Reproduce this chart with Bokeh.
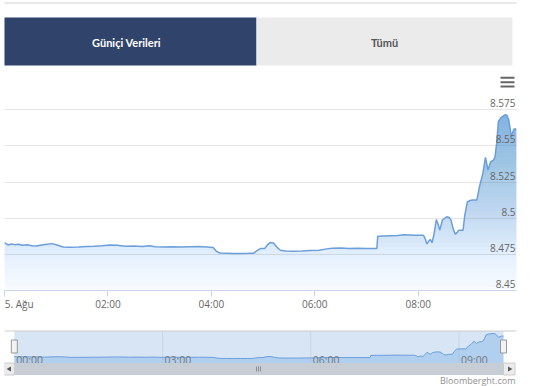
import numpy as np
import pandas as pd
from bokeh.plotting import figure
from bokeh.layouts import column
from bokeh.models import Range1d, FixedTicker, Span
from bokeh.embed import file_html
from bokeh.resources import INLINE
from bokeh.core.properties import value

# ---------------- data ----------------
DAY = "2020-08-05"
times = ["00:00", "00:04", "00:08", "00:12", "00:16", "00:21", "00:26", "00:32", "00:37", "00:43",
         "00:49", "00:55", "01:01", "01:08", "01:16", "01:26", "01:35", "01:44", "01:53", "02:02",
         "02:11", "02:20", "02:30", "02:40", "02:48", "02:55", "03:05", "03:15", "03:25", "03:35",
         "03:45", "03:55", "04:02", "04:06", "04:10", "04:18", "04:26", "04:35", "04:43", "04:49",
         "04:53", "04:57", "05:02", "05:05", "05:08", "05:12", "05:16", "05:20", "05:26", "05:35",
         "05:45", "05:55", "06:05", "06:12", "06:20", "06:30", "06:40", "06:50", "07:00", "07:07",
         "07:12", "07:13", "07:20", "07:28", "07:36", "07:43", "07:50", "07:57", "08:06", "08:08",
         "08:10", "08:12", "08:14", "08:16", "08:18", "08:21", "08:23", "08:25", "08:28", "08:33",
         "08:36", "08:38", "08:41", "08:43", "08:45", "08:47", "08:52", "08:54", "08:57", "09:00",
         "09:03", "09:08", "09:11", "09:15", "09:18", "09:21", "09:24", "09:27", "09:29", "09:31",
         "09:33", "09:36", "09:38", "09:41", "09:43", "09:45", "09:48", "09:51", "09:54"]
rates = [8.4831, 8.4815, 8.4822, 8.4817, 8.4820, 8.4813, 8.4817, 8.4810, 8.4808, 8.4815,
         8.4820, 8.4824, 8.4815, 8.4801, 8.4799, 8.4801, 8.4804, 8.4806, 8.4810, 8.4815,
         8.4812, 8.4806, 8.4808, 8.4804, 8.4810, 8.4803, 8.4801, 8.4803, 8.4800, 8.4802,
         8.4804, 8.4801, 8.4797, 8.4770, 8.4759, 8.4757, 8.4755, 8.4756, 8.4757, 8.4758,
         8.4775, 8.4790, 8.4791, 8.4815, 8.4831, 8.4829, 8.4800, 8.4778, 8.4773, 8.4771,
         8.4773, 8.4776, 8.4778, 8.4786, 8.4792, 8.4793, 8.4791, 8.4792, 8.4790, 8.4791,
         8.4791, 8.4875, 8.4877, 8.4879, 8.4881, 8.4886, 8.4884, 8.4882, 8.4882, 8.4860,
         8.4822, 8.4840, 8.4853, 8.4830, 8.4880, 8.4990, 8.4960, 8.4917, 8.4986, 8.5010,
         8.5005, 8.4986, 8.4917, 8.4890, 8.4900, 8.4917, 8.4917, 8.5020, 8.5113, 8.5122,
         8.5125, 8.5125, 8.5217, 8.5310, 8.5420, 8.5333, 8.5390, 8.5400, 8.5420, 8.5519,
         8.5669, 8.5695, 8.5703, 8.5715, 8.5710, 8.5680, 8.5565, 8.5616, 8.5616]

y_ticks = [8.45, 8.475, 8.5, 8.525, 8.55, 8.575, 8.6]
y_tick_labels = ["8.45", "8.475", "8.5", "8.525", "8.55", "8.575"]
x_ticks = ["00:00", "02:00", "04:00", "06:00", "08:00"]
x_tick_labels = ["5. Ağu", "02:00", "04:00", "06:00", "08:00"]
nav_ticks = ["00:00", "03:00", "06:00", "09:00"]
tab_labels = ["Güniçi Verileri", "Tümü"]
credit = "Bloomberght.com"

# ---------------- styles ----------------
FONT = "Open Sans"
LINE = "#6c9fd9"
FILL = "#6aa5e2"
GRID = "#e6e6e6"
LBL = "#666666"
W = 534
BL, BR = 4, 18          # shared left / right borders -> frames span x 4..516


def ms(ts):
    return (ts - pd.Timestamp("1970-01-01")) / pd.Timedelta(milliseconds=1)


def stamp(s):
    return pd.Timestamp(f"{DAY} {s}")


t = pd.to_datetime([f"{DAY} {s}" for s in times])
v = np.array(rates)
t0, t1 = t[0], t[-1]

# ---------------- tabs (pixel coordinates) ----------------
tabs = figure(width=W, height=70, x_range=Range1d(BL, W - BR), y_range=Range1d(70, 0),
              toolbar_location=None, output_backend="svg", min_border_left=BL,
              min_border_right=BR, min_border_top=0, min_border_bottom=0,
              x_axis_location=None, y_axis_location=None, outline_line_color=None,
              background_fill_color="white", border_fill_color="white")
tabs.xgrid.visible = False
tabs.ygrid.visible = False
tabs.segment(x0=[0], x1=[W], y0=[2.5], y1=[2.5], line_color="#e8e8e8", line_width=2)
tabs.quad(left=[0, 256], right=[256, 512], top=[17, 17], bottom=[65, 65],
          fill_color=["#2f436b", "#ebebeb"], line_color=None)
tabs.text(x=[126], y=[41.5], text=[tab_labels[0]], text_align="center", text_baseline="middle",
          text_color="white", text_font=value("Lato"), text_font_style="bold", text_font_size="11px")
tabs.text(x=[384], y=[41.5], text=[tab_labels[1]], text_align="center", text_baseline="middle",
          text_color="#555555", text_font=value("Lato"), text_font_style="bold", text_font_size="11px")

# ---------------- main chart ----------------
frame_w, frame_h = W - BL - BR, 217
ymin, ymax = y_ticks[0], y_ticks[-1]
val_per_px = (ymax - ymin) / frame_h

p = figure(width=W, height=248, x_axis_type="datetime",
           x_range=Range1d(t0.to_pydatetime(), t1.to_pydatetime()),
           y_range=Range1d(ymin, ymax), toolbar_location=None, output_backend="svg",
           y_axis_location=None, min_border_left=BL, min_border_right=BR,
           min_border_top=3, min_border_bottom=28, outline_line_color=None,
           background_fill_color="white", border_fill_color="white")
p.xgrid.visible = False
p.ygrid.ticker = FixedTicker(ticks=y_ticks)
p.ygrid.grid_line_color = GRID

# vertical gradient under the line, built from layered bands
N = 60
levels = np.linspace(ymin, ymax, N + 1)[:-1]
cum = np.linspace(0.05, 0.92, N)
prev = 0.0
for k, lev in enumerate(levels):
    a = 1 - (1 - cum[k]) / (1 - prev)
    prev = cum[k]
    p.varea(x=t, y1=np.full(len(v), lev), y2=np.maximum(v, lev), fill_color=FILL, fill_alpha=a)
p.line(t, v, line_color=LINE, line_width=1.5)

# y labels sit inside the plot, just above their grid lines
label_y = [yt + 6.5 * val_per_px for yt in y_ticks[:len(y_tick_labels)]]
p.text(x=[t1] * len(y_tick_labels), y=label_y, text=y_tick_labels,
       text_align="right", text_baseline="alphabetic", x_offset=-1,
       text_color=LBL, text_font=value(FONT), text_font_size="10px")

ax = p.xaxis[0]
tick_ms = [ms(stamp(s)) for s in x_ticks]
ax.ticker = FixedTicker(ticks=tick_ms)
ax.major_label_overrides = {tick_ms[0]: "\u00a0\u2009" + x_tick_labels[0],
                            **{m: s for m, s in zip(tick_ms[1:], x_tick_labels[1:])}}
ax.axis_line_color = "#ccd6eb"
ax.major_tick_line_color = "#ccd6eb"
ax.major_tick_out = 6
ax.major_tick_in = 0
ax.minor_tick_line_color = None
ax.major_label_standoff = 0
ax.major_label_text_color = LBL
ax.major_label_text_font = FONT
ax.major_label_text_font_size = "10px"

# hamburger menu icon (pixel placement inside the frame)
ms_per_px = (ms(t1) - ms(t0)) / frame_w
icon_x = pd.Timestamp(ms(t1) - 9 * ms_per_px, unit="ms")
p.scatter(x=[icon_x] * 3, y=[ymax - d * val_per_px for d in (4.3, 8.7, 13.0)], marker="dash",
          size=14, line_width=2, line_color="#666666")

# ---------------- navigator + scrollbar + credit ----------------
NAV_L, NAV_R, NAV_T, NAV_B = 13.8, 503.0, 330.5, 362.5
ppm = (NAV_R - NAV_L) / (ms(t1) - ms(t0))
nav_start = pd.Timestamp(ms(t0) - (NAV_L - BL) / ppm, unit="ms")
nav_end = pd.Timestamp(ms(t1) + (W - BR - NAV_R) / ppm, unit="ms")
vs = (v.max() - v.min()) / (358 - 333)
nav = figure(width=W, height=68, x_axis_type="datetime",
             x_range=Range1d(nav_start.to_pydatetime(), nav_end.to_pydatetime()),
             y_range=Range1d(386, 318), toolbar_location=None, output_backend="svg",
             x_axis_location=None, y_axis_location=None, min_border_left=BL,
             min_border_right=BR, min_border_top=0, min_border_bottom=0,
             outline_line_color=None, background_fill_color="white", border_fill_color="white")
nav.extra_y_ranges = {"rate": Range1d(v.min() - (386 - 358) * vs, v.max() + (333 - 318) * vs)}
nav.extra_x_ranges = {"px": Range1d(BL, W - BR)}
nav.xgrid.visible = False
nav.ygrid.visible = False
nav.quad(left=[t0], right=[t1], top=[NAV_T], bottom=[NAV_B], fill_color="#d8e5f5", line_color=None)
nt = [stamp(s) for s in nav_ticks]
nav.segment(x0=nt[1:], x1=nt[1:], y0=[NAV_T] * 3, y1=[NAV_B] * 3, line_color="#c8d6e8", line_width=1)
nav.varea(x=t, y1=np.full(len(v), v.min() - 5 * vs), y2=v, fill_color=FILL, fill_alpha=0.35,
          y_range_name="rate")
nav.line(t, v, line_color=LINE, line_width=1, y_range_name="rate")
nav.text(x=nt, y=[359] * len(nt), text=nav_ticks, text_align="left", text_baseline="alphabetic",
         x_offset=2, text_color="#777777", text_font=value(FONT), text_font_size="10.5px")
nav.add_layout(Span(location=NAV_T, dimension="width", line_color="#cccccc", line_width=1))
nav.rect(x=[t0, t1], y=[346, 346], width=6, height=13, width_units="screen",
         height_units="screen", fill_color="#f2f2f2", line_color="#999999")

# scrollbar (pixel coordinates)
nav.quad(left=[NAV_L], right=[NAV_R], top=[NAV_B], bottom=[374.5], fill_color="#c6cdd4",
         line_color=None, x_range_name="px")
nav.quad(left=[3.5, NAV_R], right=[NAV_L, 514.5], top=[NAV_B] * 2, bottom=[374.5] * 2,
         fill_color="#ebebeb", line_color="#cccccc", x_range_name="px")
nav.scatter(x=[9, 509], y=[368.5, 368.5], marker="triangle", size=5,
            angle=[np.pi / 2, -np.pi / 2], fill_color="#555555", line_color=None, x_range_name="px")
nav.segment(x0=[256, 258, 260], x1=[256, 258, 260], y0=[366] * 3, y1=[371] * 3,
            line_color="#8a8f96", line_width=1, x_range_name="px")
nav.text(x=[515], y=[379.5], text=[credit], text_align="right", text_baseline="middle",
         text_color="#909090", text_font=value(FONT), text_font_size="9px", x_range_name="px")

layout = column(tabs, p, nav, spacing=0)
open("out.html", "w").write(file_html(layout, INLINE))
